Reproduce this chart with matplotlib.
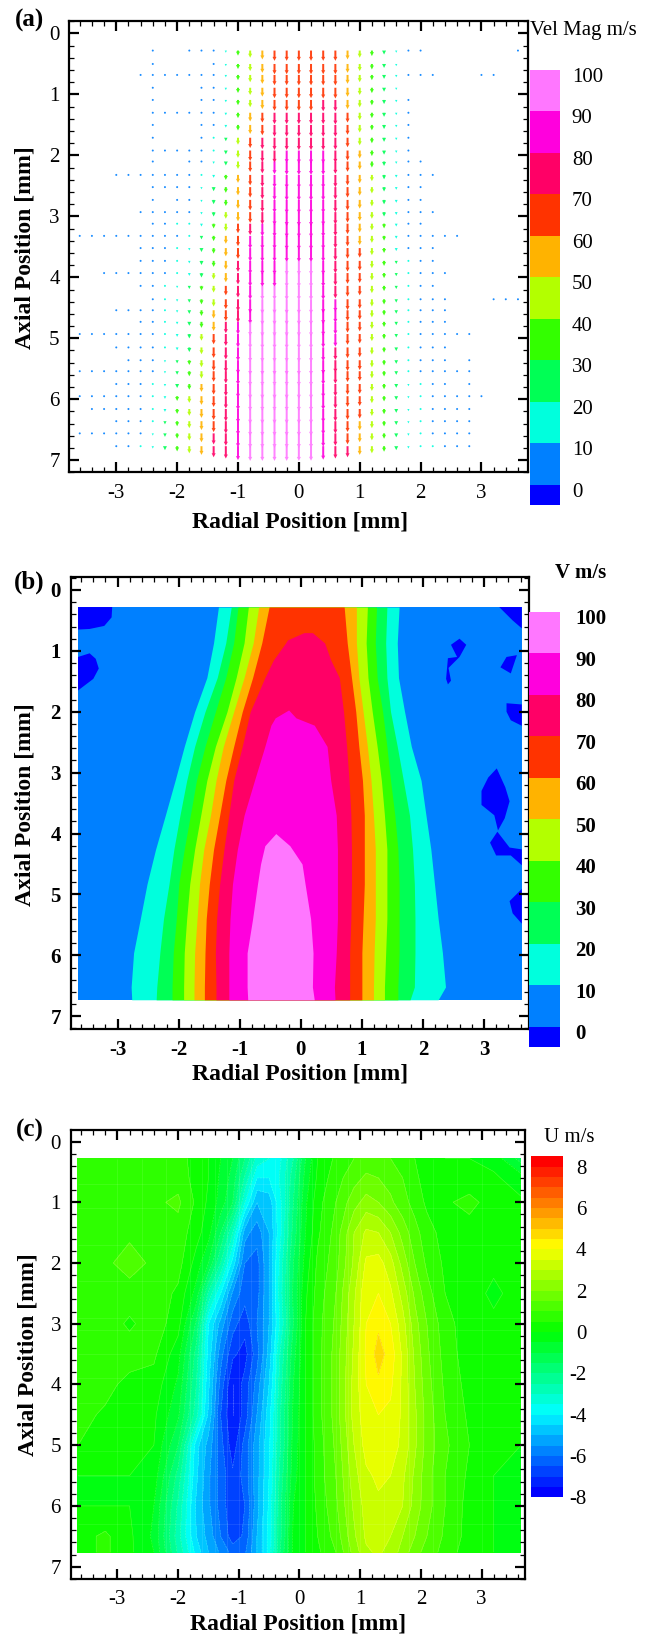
import numpy as np
import matplotlib
matplotlib.use("Agg")
import matplotlib.pyplot as plt
from matplotlib.colors import ListedColormap, BoundaryNorm, LinearSegmentedColormap
from matplotlib.ticker import MultipleLocator

plt.rcParams['font.family'] = ['Liberation Serif', 'DejaVu Serif']
plt.rcParams['axes.unicode_minus'] = False

W, H = 648, 1635

band_colors = ['#0000ff', '#0080ff', '#00ffdd', '#00ff55', '#33ff00', '#b3ff00',
               '#ffb300', '#ff3300', '#ff0066', '#ff00dd', '#ff77ff']
band_levels = [-10, 0, 10, 20, 30, 40, 50, 60, 70, 80, 90, 110]
cbar_ticks = [0, 10, 20, 30, 40, 50, 60, 70, 80, 90, 100]
cbar_edges = [-3.65, 1.25, 11.25, 21.25, 31.25, 41.25, 51.25, 61.25, 71.25, 81.25, 91.25, 101.3]

# (a) velocity magnitude at each measuring point, 0 = no point there
vec_x = [-3.6, -3.4, -3.2, -3.0, -2.8, -2.6, -2.4, -2.2, -2.0, -1.8, -1.6, -1.4, -1.2, -1.0, -0.8, -0.6, -0.4, -0.2, 0.0,
         0.2, 0.4, 0.6, 0.8, 1.0, 1.2, 1.4, 1.6, 1.8, 2.0, 2.2, 2.4, 2.6, 2.8, 3.0, 3.2, 3.4, 3.6]
vec_y = [0.28, 0.5, 0.68, 0.89, 1.09, 1.3, 1.5, 1.71, 1.92, 2.1, 2.32, 2.52, 2.73, 2.93, 3.12, 3.32, 3.52,
         3.73, 3.93, 4.14, 4.36, 4.54, 4.73, 4.93, 5.15, 5.36, 5.54, 5.75, 5.95, 6.16, 6.36, 6.56, 6.77]
vec_mag = [
 [0,0,0,0,0,0,4,0,0,6,4,7,14,32,45,56,65,65,65,65,65,65,56,45,35,25,14,5,5,0,0,0,0,0,0,0,6],
 [0,0,0,0,0,0,4,0,0,0,0,7,14,32,45,56,65,65,65,65,65,65,56,45,35,25,14,0,0,0,0,0,0,0,0,0,0],
 [0,0,0,0,0,3,4,3,3,4,5,7,15,33,46,56,65,65,66,66,66,66,56,46,33,25,15,6,4,3,0,0,0,3,3,0,0],
 [0,0,0,0,0,0,4,0,0,0,5,7,15,33,46,56,66,66,66,66,68,68,57,46,34,25,14,0,0,0,0,0,0,0,0,0,0],
 [0,0,0,0,0,0,3,0,0,0,6,8,15,33,46,58,68,68,68,68,72,72,58,47,34,26,15,5,0,0,0,0,0,0,0,0,0],
 [0,0,0,0,0,0,5,3,3,3,6,9,16,34,55,62,72,72,72,72,72,75,62,47,34,26,15,6,0,0,0,0,0,0,0,0,0],
 [0,0,0,0,0,0,3,0,0,0,4,9,17,35,57,65,74,74,75,75,75,75,62,48,34,26,15,7,0,0,0,0,0,0,0,0,0],
 [0,0,0,0,0,0,3,0,0,0,4,10,22,44,65,72,78,78,78,78,78,76,60,48,35,26,15,7,0,0,0,0,0,0,0,0,0],
 [0,0,0,0,0,0,3,5,3,3,4,12,24,46,66,73,78,80,82,82,82,78,63,50,35,26,15,7,0,0,0,0,0,0,0,0,0],
 [0,0,0,0,0,0,3,0,0,4,6,15,25,47,66,75,80,85,85,85,85,78,65,52,38,28,15,7,3,0,0,0,0,0,0,0,0],
 [0,0,0,5,3,2,4,4,4,7,12,18,32,50,66,76,82,86,86,86,85,78,66,53,40,28,17,8,4,3,0,0,0,0,0,0,0],
 [0,0,0,0,0,0,4,5,3,7,14,26,36,52,66,76,83,86,86,86,85,78,66,54,40,28,17,8,3,0,0,0,0,0,0,0,0],
 [0,0,0,0,0,0,4,0,4,8,14,27,38,56,66,77,83,87,87,87,85,78,66,55,41,28,18,8,3,0,0,0,0,0,0,0,0],
 [0,0,0,0,0,4,5,3,5,9,15,28,42,58,68,78,84,88,88,88,85,78,66,56,42,28,18,8,4,3,0,0,0,0,0,0,0],
 [0,0,0,0,0,0,5,4,12,12,18,30,47,60,72,80,85,88,88,88,85,78,66,56,42,30,18,9,4,0,0,0,0,0,0,0,0],
 [2,2,2,2,3,3,6,8,9,13,22,33,50,65,82,85,85,88,88,88,86,78,66,58,44,30,18,9,6,3,3,3,0,0,0,0,0],
 [0,0,0,0,0,3,6,7,10,15,25,35,52,68,85,87,87,89,89,89,87,78,67,60,45,31,19,9,5,3,0,0,0,0,0,0,0],
 [0,0,0,0,0,3,6,8,12,16,26,38,55,70,85,88,88,90,90,90,88,78,68,62,46,32,20,10,5,3,0,0,0,0,0,0,0],
 [0,0,7,3,3,3,7,9,13,18,28,40,58,72,86,88,88,90,90,90,88,79,68,62,46,32,20,10,6,3,3,0,0,0,0,0,0],
 [0,0,0,0,0,3,7,10,14,20,30,42,60,74,87,90,90,91,91,91,88,79,68,60,46,33,20,10,5,3,0,0,0,0,0,0,0],
 [0,0,0,0,0,0,6,10,15,21,32,46,62,76,88,91,91,92,92,92,88,80,68,60,46,33,21,11,6,3,3,0,0,0,3,3,3],
 [0,0,0,4,3,3,7,11,15,23,36,52,68,78,88,92,92,92,92,92,88,80,68,60,45,33,22,12,6,4,3,0,0,0,0,0,0],
 [0,0,0,0,0,3,7,11,16,25,38,58,72,80,90,92,92,92,92,92,88,80,68,60,45,33,22,12,7,4,3,0,0,0,0,0,0],
 [6,2,2,3,3,4,7,12,18,28,42,65,75,85,92,93,93,93,93,93,87,80,68,60,45,33,22,12,8,5,3,3,5,0,0,0,0],
 [0,0,0,3,3,4,7,13,18,29,43,66,76,86,92,93,93,93,93,93,87,79,68,62,45,33,23,12,8,5,4,0,0,0,0,0,0],
 [0,0,0,0,3,4,8,14,20,30,44,66,76,86,93,93,93,93,93,93,87,79,68,62,45,33,23,13,9,6,5,0,6,0,0,0,0],
 [6,2,2,3,3,5,9,14,22,32,46,67,77,87,93,93,93,93,93,93,86,79,68,62,45,33,23,13,9,6,4,3,5,0,0,0,0],
 [0,0,0,4,3,5,10,15,25,36,50,67,77,87,93,93,93,93,93,93,86,78,68,62,44,33,24,14,10,7,5,0,5,0,0,0,0],
 [7,3,3,4,4,7,12,17,30,42,55,68,78,88,93,93,93,93,93,93,86,78,68,62,44,33,24,14,10,8,6,4,6,3,0,0,0],
 [0,6,3,3,4,7,12,18,31,43,56,69,78,88,93,93,93,93,93,93,86,78,68,60,44,33,24,14,10,8,6,4,5,0,0,0,0],
 [0,0,0,3,4,7,13,20,32,44,56,69,78,88,93,93,93,93,93,92,85,78,68,58,44,33,24,14,11,8,6,4,5,0,0,0,0],
 [6,3,3,4,4,7,14,22,33,45,56,70,78,88,93,93,93,93,93,92,85,78,69,56,44,34,25,15,11,9,7,4,7,0,0,0,0],
 [0,0,0,5,5,12,15,25,33,45,55,70,78,88,93,93,93,93,93,92,85,78,70,55,45,35,25,15,12,10,8,5,5,0,0,0,0],
]

# (b) where each contour crosses the axial rows, in mm
v_extent_x = [-3.65, 3.62]
v_extent_y = [0.28, 6.73]
v_rows = [0.28, 0.87, 1.44, 2.0, 2.57, 3.13, 3.7, 4.26, 4.83, 5.4, 5.96, 6.52, 6.73]
v10_left = [-1.35, -1.43, -1.54, -1.74, -1.91, -2.06, -2.22, -2.38, -2.52, -2.63, -2.74, -2.78, -2.77]
v10_right = [1.61, 1.58, 1.60, 1.70, 1.81, 1.97, 2.05, 2.13, 2.19, 2.25, 2.32, 2.37, 2.25]
v20_left = [-1.14, -1.23, -1.37, -1.57, -1.74, -1.87, -1.98, -2.08, -2.16, -2.25, -2.31, -2.36, -2.37]
v20_right = [1.41, 1.39, 1.41, 1.47, 1.58, 1.68, 1.78, 1.83, 1.86, 1.87, 1.87, 1.86, 1.79]
v30_left = [-1.03, -1.10, -1.23, -1.40, -1.57, -1.71, -1.81, -1.91, -2.0, -2.04, -2.09, -2.11, -2.11]
v30_right = [1.24, 1.22, 1.25, 1.34, 1.41, 1.47, 1.54, 1.59, 1.61, 1.61, 1.61, 1.59, 1.59]
v40_left = [-0.86, -0.93, -1.06, -1.21, -1.40, -1.54, -1.64, -1.74, -1.82, -1.87, -1.91, -1.92, -1.92]
v40_right = [1.09, 1.07, 1.10, 1.17, 1.25, 1.32, 1.37, 1.41, 1.41, 1.41, 1.39, 1.37, 1.37]
v50_left = [-0.69, -0.78, -0.93, -1.10, -1.27, -1.39, -1.48, -1.59, -1.66, -1.70, -1.74, -1.75, -1.75]
v50_right = [0.91, 0.91, 0.95, 1.02, 1.09, 1.15, 1.19, 1.22, 1.22, 1.22, 1.20, 1.19, 1.19]
v60_left = [-0.52, -0.64, -0.79, -0.96, -1.10, -1.23, -1.33, -1.43, -1.50, -1.55, -1.57, -1.58, -1.58]
v60_right = [0.71, 0.76, 0.83, 0.90, 0.95, 1.01, 1.04, 1.04, 1.04, 1.02, 1.0, 1.0, 1.0]
v70_rows = [0.7, 0.82, 0.87, 1.15, 1.44, 2.0, 2.57, 3.13, 3.7, 4.26, 4.83, 5.4, 5.96, 6.52, 6.73]
v70_left = [0.05, -0.22, -0.25, -0.45, -0.59, -0.83, -0.96, -1.10, -1.18, -1.26, -1.33, -1.38, -1.40, -1.39, -1.39]
v70_right = [0.19, 0.33, 0.39, 0.49, 0.63, 0.70, 0.75, 0.79, 0.82, 0.83, 0.83, 0.82, 0.80, 0.80, 0.80]
v80_rows = [1.97, 2.1, 2.22, 2.57, 3.13, 3.7, 4.26, 4.83, 5.4, 5.96, 6.52, 6.73]
v80_left = [-0.2, -0.42, -0.49, -0.59, -0.76, -0.93, -1.04, -1.12, -1.16, -1.18, -1.18, -1.18]
v80_right = [-0.2, -0.08, 0.22, 0.43, 0.49, 0.58, 0.60, 0.60, 0.60, 0.58, 0.55, 0.56]
v90_rows = [4.0, 4.2, 4.5, 4.83, 5.4, 5.96, 6.52, 6.73]
v90_left = [-0.41, -0.59, -0.66, -0.71, -0.79, -0.88, -0.88, -0.87]
v90_right = [-0.41, -0.18, 0.02, 0.07, 0.16, 0.20, 0.19, 0.22]

# (b) small patches below 0 m/s
v_patches = [
    ([-3.65, -3.09, -3.10, -3.22, -3.46, -3.65], [0.28, 0.28, 0.45, 0.59, 0.64, 0.65]),
    ([-3.65, -3.46, -3.36, -3.31, -3.40, -3.65], [1.10, 1.04, 1.13, 1.29, 1.46, 1.65]),
    ([3.25, 3.62, 3.62, 3.47], [0.28, 0.28, 0.63, 0.50]),
    ([2.46, 2.60, 2.71, 2.60, 2.42, 2.46, 2.41, 2.38, 2.41, 2.56], [0.90, 0.80, 0.90, 1.10, 1.28, 1.49, 1.55, 1.46, 1.12, 1.10]),
    ([3.37, 3.54, 3.44, 3.27], [1.10, 1.07, 1.37, 1.27]),
    ([3.37, 3.62, 3.62, 3.44, 3.37], [1.86, 1.88, 2.23, 2.14, 2.0]),
    ([3.21, 3.35, 3.42, 3.34, 3.23, 3.17, 2.96, 2.96, 3.07], [2.93, 3.24, 3.47, 3.75, 3.95, 3.7, 3.53, 3.3, 3.08]),
    ([3.22, 3.42, 3.62, 3.62, 3.44, 3.2, 3.10], [3.97, 4.23, 4.26, 4.52, 4.36, 4.36, 4.15]),
    ([3.62, 3.62, 3.47, 3.42], [4.91, 5.48, 5.31, 5.11]),
]

# (c) radial velocity
u_x = [-3.65, -3.2, -2.8, -2.4, -2.0, -1.7, -1.5, -1.3, -1.1, -0.9, -0.7, -0.5, -0.3, -0.1,
       0.1, 0.3, 0.6, 0.9, 1.1, 1.3, 1.5, 1.7, 1.9, 2.1, 2.4, 2.8, 3.2, 3.65]
u_y = [0.28, 0.6, 1.0, 1.5, 2.0, 2.5, 3.0, 3.5, 4.0, 4.5, 5.0, 5.5, 6.0, 6.5, 6.76]
u_val = [
 [0.7,0.8,0.8,0.8,0.7,0.3,0.0,-0.5,-1.0,-2.0,-3.2,-3.5,-3.5,-2.5,-1.0,0.0,0.6,1.0,1.2,1.2,1.0,0.8,0.5,0.2,0.0,0.0,-0.2,-1.2],
 [0.6,0.8,0.8,0.9,0.8,0.3,0.0,-0.6,-1.2,-2.6,-4.0,-4.0,-3.4,-2.2,-0.8,0.1,0.8,1.3,1.6,1.5,1.3,1.0,0.6,0.3,0.1,0.1,0.1,-0.3],
 [0.5,0.7,0.8,0.9,1.1,0.4,-0.1,-0.7,-1.5,-3.5,-5.0,-4.8,-3.5,-2.0,-0.6,0.3,1.0,1.8,2.2,2.0,1.6,1.2,0.8,0.4,0.4,0.7,0.2,0.1],
 [0.7,0.8,0.9,0.9,0.8,0.2,-0.3,-1.5,-3.0,-5.3,-5.8,-5.0,-3.5,-1.8,-0.5,0.4,1.2,2.5,3.1,3.0,2.5,1.8,1.2,0.7,0.3,0.2,0.2,0.2],
 [0.8,0.9,1.2,0.9,0.7,-0.2,-1.0,-2.5,-4.2,-6.0,-6.2,-5.0,-3.2,-1.5,-0.3,0.6,1.3,2.6,3.6,3.7,3.2,2.3,1.5,0.9,0.4,0.2,0.1,0.1],
 [0.7,0.8,0.8,0.8,0.4,-0.7,-2.6,-4.0,-5.6,-6.3,-6.2,-5.0,-3.1,-1.4,-0.1,0.7,1.5,2.9,3.9,4.0,3.6,2.8,1.9,1.2,0.5,0.2,-0.1,0.2],
 [0.7,0.8,0.4,0.8,0.2,-1.6,-4.0,-5.2,-6.3,-6.8,-6.0,-5.0,-3.3,-1.5,0.0,0.8,1.6,3.0,4.0,4.4,4.0,3.2,2.2,1.5,0.7,0.2,0.1,0.1],
 [0.8,0.8,0.8,0.6,-0.3,-2.2,-4.2,-5.8,-6.9,-7.2,-6.2,-4.8,-2.8,-1.2,0.0,0.8,1.7,3.1,4.1,4.7,4.3,3.4,2.4,1.6,0.8,0.2,0.1,0.2],
 [0.8,0.7,0.3,0.3,-0.6,-2.5,-4.4,-6.2,-7.5,-6.8,-5.8,-4.5,-2.6,-1.0,0.0,0.8,1.7,3.2,4.0,4.4,4.1,3.4,2.5,1.7,0.9,0.3,0.1,0.3],
 [0.7,0.4,0.2,0.1,-0.9,-2.8,-4.6,-6.5,-7.5,-6.8,-5.5,-4.2,-2.4,-0.9,0.0,0.8,1.7,3.2,3.8,4.0,3.9,3.4,2.6,1.8,1.0,0.4,0.1,0.0],
 [0.5,0.1,0.1,0.0,-1.5,-4.3,-5.2,-6.3,-7.3,-6.3,-5.2,-4.1,-2.4,-0.8,0.0,0.7,1.6,3.0,3.7,3.8,3.7,3.4,2.6,1.8,1.1,0.5,0.1,0.0],
 [0.0,0.0,0.0,-0.2,-2.2,-4.4,-5.4,-6.2,-6.9,-6.3,-5.2,-4.0,-2.2,-0.7,0.0,0.7,1.5,2.8,3.4,3.6,3.5,3.1,2.4,1.7,1.0,0.4,0.0,0.0],
 [0.0,0.0,0.0,-0.5,-2.6,-4.6,-5.4,-6.2,-6.9,-6.5,-5.2,-3.9,-2.0,-0.5,0.0,0.6,1.4,2.6,3.2,3.4,3.3,3.0,2.3,1.7,1.0,0.3,0.0,0.0],
 [0.3,0.6,0.1,-0.6,-2.8,-4.5,-5.2,-6.0,-6.8,-6.4,-5.0,-3.8,-2.0,-0.4,0.0,0.5,1.2,2.4,3.1,3.4,3.0,2.5,2.0,1.5,0.9,0.3,0.0,0.0],
 [0.3,0.6,0.1,-0.5,-2.6,-4.2,-5.0,-5.6,-6.2,-6.1,-5.0,-3.8,-1.8,-0.4,0.0,0.4,1.0,2.2,2.9,3.1,2.8,2.3,1.7,1.3,0.8,0.2,0.0,0.0],
]
u_levels = np.arange(-8, 9, 0.5)
u_cbar_ticks = [-8, -6, -4, -2, 0, 2, 4, 6, 8]
u_mesh_x = [-3.0, -2.6, -2.2, -1.8, -1.6, -1.4, -1.2, -1.0, -0.8, -0.6, -0.4, -0.2, 0.0, 0.2, 0.4, 0.6, 0.8, 1.0, 1.4, 1.8, 2.2, 2.6, 3.0]
u_mesh_y = [0.7, 1.1, 1.7, 2.3, 2.9, 3.1, 3.5, 3.9, 4.3, 4.7, 5.1, 5.5, 5.9, 6.3]

x_ticks = [-3, -2, -1, 0, 1, 2, 3]
y_ticks = [0, 1, 2, 3, 4, 5, 6, 7]


def px_axes(fig, left, top, right, bottom):
    return fig.add_axes([left / W, 1 - bottom / H, (right - left) / W, (bottom - top) / H])


def style_axes(ax, xlim, ylim, xlabel_xy, ylabel_xy, bold=False):
    ax.set_xlim(*xlim)
    ax.set_ylim(*ylim)
    ax.set_xticks(x_ticks)
    ax.set_yticks(y_ticks)
    ax.xaxis.set_minor_locator(MultipleLocator(0.2))
    ax.yaxis.set_minor_locator(MultipleLocator(0.2))
    ax.tick_params(which='major', direction='in', top=True, right=True, length=7.2, width=1.6, labelsize=15)
    ax.tick_params(which='minor', direction='in', top=True, right=True, length=3.6, width=0.9)
    ax.tick_params(axis='x', which='major', pad=8)
    ax.tick_params(axis='y', which='major', pad=7)
    for s in ax.spines.values():
        s.set_linewidth(1.6)
    if bold:
        for t in ax.get_xticklabels() + ax.get_yticklabels():
            t.set_fontweight('bold')
    ax.set_xlabel("Radial Position [mm]", fontsize=17, fontweight='bold', va='center')
    ax.xaxis.set_label_coords(xlabel_xy[0] / W, 1 - xlabel_xy[1] / H, transform=fig.transFigure)
    ax.set_ylabel("Axial Position [mm]", fontsize=17, fontweight='bold', va='center')
    ax.yaxis.set_label_coords(ylabel_xy[0] / W, 1 - ylabel_xy[1] / H, transform=fig.transFigure)


def band_bar(fig, rect, edges, colors, ticks, bold=False, pad=8.5, right_align=False):
    cax = px_axes(fig, *rect)
    cax.pcolormesh([0, 1], edges, np.arange(len(colors)).reshape(-1, 1),
                   cmap=ListedColormap(colors), vmin=-0.5, vmax=len(colors) - 0.5)
    cax.set_xticks([])
    cax.yaxis.tick_right()
    cax.set_yticks(ticks)
    cax.tick_params(length=0, pad=pad, labelsize=15)
    for s in cax.spines.values():
        s.set_visible(False)
    for t in cax.get_yticklabels():
        if bold:
            t.set_fontweight('bold')
        if right_align:
            t.set_ha('right')
    return cax


fig = plt.figure(figsize=(W / 100, H / 100), dpi=100)

# panel a
ax_a = px_axes(fig, 69.4, 21.3, 527.7, 472.4)
mag = np.array(vec_mag, dtype=float)
gx, gy = np.meshgrid(vec_x, vec_y)
keep = mag > 0
vel_cmap = ListedColormap(band_colors)
vel_norm = BoundaryNorm(band_levels, vel_cmap.N)
ax_a.quiver(gx[keep], gy[keep], np.zeros(keep.sum()), mag[keep] * 0.0026, mag[keep], cmap=vel_cmap, norm=vel_norm,
            angles='xy', scale_units='xy', scale=1, units='dots', width=2.0, alpha=0.9,
            headwidth=2.0, headlength=2.0, headaxislength=2.0, minlength=1.1, pivot='tail')
style_axes(ax_a, (-3.77, 3.76), (7.2, -0.2), (300, 522), (25, 248))
band_bar(fig, (530, 69.6, 560, 505), cbar_edges, band_colors, cbar_ticks, pad=8.5)
fig.text(530.5 / W, 1 - 30 / H, "Vel Mag m/s", fontsize=15, va='center', ha='left')
fig.text(30 / W, 1 - 20 / H, "(a)", fontsize=18, fontweight='bold', ha='center', va='center')

# panel b
ax_b = px_axes(fig, 70.7, 577.2, 528.5, 1029)
ax_b.fill_between(v_extent_x, v_extent_y[0], v_extent_y[1], color=band_colors[1], lw=0)
for px_, py_ in v_patches:
    ax_b.fill(px_, py_, color=band_colors[0], lw=0)
ax_b.fill_betweenx(v_rows, v10_left, v10_right, color=band_colors[2], lw=0)
ax_b.fill_betweenx(v_rows, v20_left, v20_right, color=band_colors[3], lw=0)
ax_b.fill_betweenx(v_rows, v30_left, v30_right, color=band_colors[4], lw=0)
ax_b.fill_betweenx(v_rows, v40_left, v40_right, color=band_colors[5], lw=0)
ax_b.fill_betweenx(v_rows, v50_left, v50_right, color=band_colors[6], lw=0)
ax_b.fill_betweenx(v_rows, v60_left, v60_right, color=band_colors[7], lw=0)
ax_b.fill_betweenx(v70_rows, v70_left, v70_right, color=band_colors[8], lw=0)
ax_b.fill_betweenx(v80_rows, v80_left, v80_right, color=band_colors[9], lw=0)
ax_b.fill_betweenx(v90_rows, v90_left, v90_right, color=band_colors[10], lw=0)
style_axes(ax_b, (-3.77, 3.73), (7.21, -0.21), (300, 1074), (25.5, 805), bold=True)
band_bar(fig, (529.3, 611.6, 560, 1046.9), cbar_edges, band_colors, cbar_ticks, bold=True, pad=11)
fig.text(581 / W, 1 - 572.7 / H, "V m/s", fontsize=15, fontweight='bold', ha='center', va='center')
fig.text(29 / W, 1 - 582 / H, "(b)", fontsize=18, fontweight='bold', ha='center', va='center')

# panel c
ax_c = px_axes(fig, 70.7, 1130, 525.2, 1578.8)
u_cmap = LinearSegmentedColormap.from_list('u', [(0, '#0000ff'), (4 / 16.5, '#00ffff'), (8 / 16.5, '#00ff00'),
                                                (12.25 / 16.5, '#ffff00'), (1, '#ff0000')], N=33)
u_norm = BoundaryNorm(np.arange(-8, 9, 0.5), u_cmap.N, extend='neither')
ax_c.contourf(u_x, u_y, u_val, levels=u_levels, cmap=u_cmap, norm=u_norm)
ax_c.contour(u_x, u_y, u_val, levels=u_levels, colors='white', linewidths=0.4, alpha=0.25)
ax_c.vlines(u_mesh_x, u_y[0], u_y[-1], colors='white', linewidths=0.5, alpha=0.12)
ax_c.hlines(u_mesh_y, u_x[0], u_x[-1], colors='white', linewidths=0.5, alpha=0.12)
style_axes(ax_c, (-3.77, 3.72), (7.2, -0.19), (298, 1624), (28, 1355))
u_edges = np.arange(-8, 9, 0.5)
cax_c = band_bar(fig, (531, 1156.3, 562.8, 1497.2), u_edges,
                 [matplotlib.colors.to_hex(u_cmap(i)) for i in range(len(u_edges) - 1)],
                 u_cbar_ticks, pad=17, right_align=True)
cax_c.set_ylim(-8, 8.5)
fig.text(569.4 / W, 1 - 1137 / H, "U m/s", fontsize=15, ha='center', va='center')
fig.text(30 / W, 1 - 1130 / H, "(c)", fontsize=18, fontweight='bold', ha='center', va='center')

fig.savefig("out.png", dpi=100)
